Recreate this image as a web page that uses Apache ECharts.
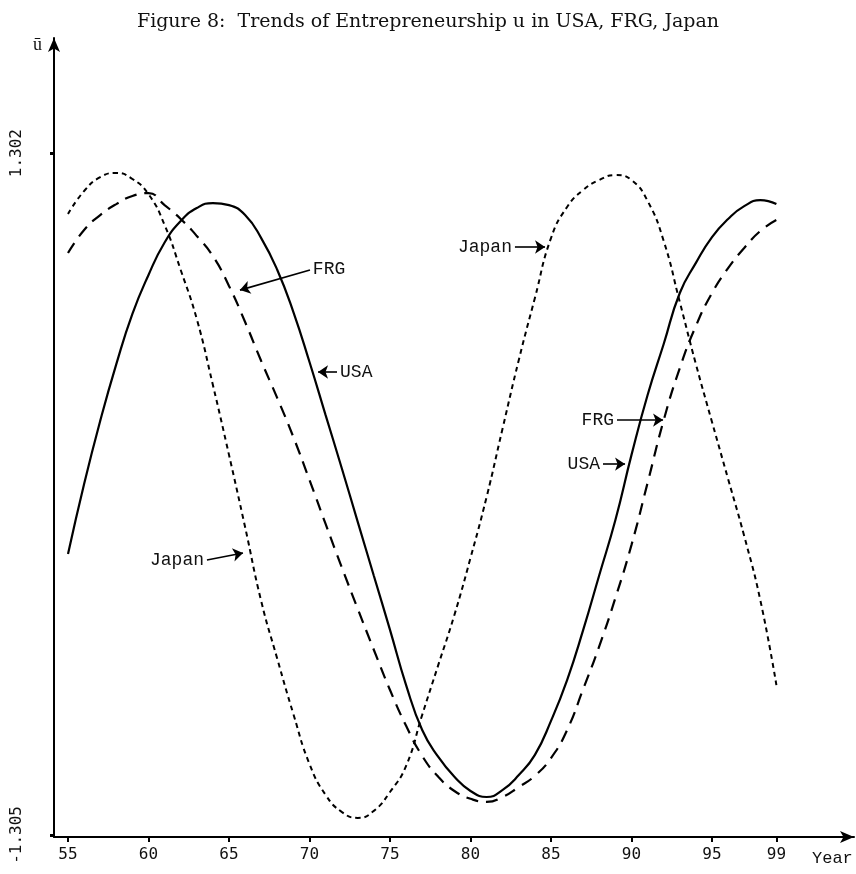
<!DOCTYPE html>
<html><head><meta charset="utf-8">
<script src="https://cdn.jsdelivr.net/npm/echarts@6/dist/echarts.min.js"></script>
<style>html,body{margin:0;padding:0;background:#fff}#c{width:856px;height:874px}</style>
</head><body><div id="c"></div>
<script>
const years = [55,56,57,58,59,60,61,62,63,64,65,66,67,68,69,70,71,72,73,74,75,76,77,78,79,80,81,82,83,84,85,86,87,88,89,90,91,92,93,94,95,96,97,98,99];
const usa = [-0.231,0.037,0.278,0.495,0.687,0.836,0.960,1.042,1.092,1.111,
  1.103,1.065,0.977,0.855,0.694,0.503,0.300,0.098,-0.109,-0.315,
  -0.521,-0.732,-0.904,-1.007,-1.083,-1.137,-1.160,-1.133,-1.076,-0.999,
  -0.869,-0.713,-0.521,-0.311,-0.101,0.148,0.377,0.572,0.767,0.882,
  0.981,1.050,1.099,1.122,1.107];
const frg = [0.920,1.008,1.065,1.107,1.138,1.149,1.103,1.050,0.985,0.908,
  0.794,0.656,0.507,0.365,0.216,0.052,-0.116,-0.281,-0.441,-0.598,
  -0.751,-0.888,-1.003,-1.083,-1.137,-1.167,-1.179,-1.160,-1.122,-1.079,
  -1.011,-0.904,-0.747,-0.583,-0.399,-0.196,0.041,0.281,0.480,0.641,
  0.767,0.862,0.939,1.004,1.046];
const japan = [1.069,1.157,1.210,1.226,1.203,1.145,1.027,0.855,0.667,0.415,
  0.148,-0.128,-0.411,-0.632,-0.843,-1.034,-1.152,-1.217,-1.240,-1.213,
  -1.141,-1.041,-0.846,-0.655,-0.464,-0.246,-0.013,0.251,0.511,0.748,
  0.977,1.096,1.161,1.199,1.218,1.199,1.119,0.966,0.732,0.495,
  0.274,0.056,-0.162,-0.407,-0.732];
const xTickValues = [55,60,65,70,75,80,85,90,95,99];
const yTickValues = [-1.305,1.302];
const titleText = 'Figure 8:  Trends of Entrepreneurship u in USA, FRG, Japan';
const xName = 'Year';
const yName = 'ū';
// annotation arrows: label text, arrow start and tip in data coordinates (year, value)
const annotations = [
  {series:'FRG', text:'FRG', from:[70.03,0.855], to:[65.68,0.778]},
  {series:'USA', text:'USA', from:[71.71,0.465], to:[70.53,0.465]},
  {series:'Japan', text:'Japan', from:[82.76,0.943], to:[84.63,0.943]},
  {series:'FRG', text:'FRG', from:[89.10,0.281], to:[91.96,0.281]},
  {series:'USA', text:'USA', from:[88.23,0.113], to:[89.60,0.113]},
  {series:'Japan', text:'Japan', from:[63.63,-0.254], to:[65.87,-0.227]}
];

const pair = (vals) => years.map((y,i)=>[y, vals[i]]);
const marks = (name) => ({
  silent: true, animation: false,
  symbol: ['none','arrow'], symbolSize: 10,
  lineStyle: {color:'#000', type:'solid', width:1.6},
  label: {show:true, position:'start', formatter:'{b}', distance:3,
    fontFamily:'Liberation Mono', fontSize:18, color:'#111'},
  emphasis: {disabled:true},
  data: annotations.filter(a=>a.series===name).map(a=>[{coord:a.from, name:a.text},{coord:a.to}])
});

const chart = echarts.init(document.getElementById('c'), null, {renderer:'canvas'});
chart.setOption({
  animation: false,
  backgroundColor: '#fff',
  title: {text: titleText, left: 'center', top: 8,
    textStyle: {fontFamily:'DejaVu Serif', fontSize:19, fontWeight:'normal', color:'#111'}},
  grid: {left:54, right:2, top:38, bottom:37, containLabel:false, outerBoundsMode:'none'},
  xAxis: {type:'value', min:54.13, max:103.82,
    axisLine:{show:true, onZero:false, symbol:['none','arrow'], symbolSize:[9,14], lineStyle:{color:'#000', width:2}},
    axisTick:{show:true, customValues:xTickValues, length:5, lineStyle:{color:'#000', width:2}},
    axisLabel:{customValues:xTickValues, formatter:v=>String(v), margin:10,
      fontFamily:'DejaVu Sans Mono', fontSize:16, color:'#111'},
    splitLine:{show:false}},
  yAxis: {type:'value', min:-1.313, max:1.742,
    axisLine:{show:true, onZero:false, symbol:['none','arrow'], symbolSize:[9,14], lineStyle:{color:'#000', width:2}},
    axisTick:{show:true, customValues:yTickValues, length:4, lineStyle:{color:'#000', width:3}},
    axisLabel:{customValues:yTickValues, rotate:90, formatter:v=>v.toFixed(3), margin:29,
      fontFamily:'DejaVu Sans Mono', fontSize:16, color:'#111'},
    splitLine:{show:false}},
  graphic: [
    {type:'text', left:812, top:850, style:{text:xName, font:'17px "Liberation Mono"', fill:'#111'}},
    {type:'text', left:33, top:36, style:{text:yName, font:'18px "Liberation Serif"', fill:'#111'}}
  ],
  series: [
    {name:'USA', type:'line', data:pair(usa), smooth:0.5, showSymbol:false,
      lineStyle:{color:'#000', width:2.2, type:'solid'}, markLine: marks('USA')},
    {name:'FRG', type:'line', data:pair(frg), smooth:0.5, showSymbol:false,
      lineStyle:{color:'#000', width:2.2, type:[12,8]}, markLine: marks('FRG')},
    {name:'Japan', type:'line', data:pair(japan), smooth:0.5, showSymbol:false,
      lineStyle:{color:'#000', width:2, type:[5,4]}, markLine: marks('Japan')}
  ]
});
</script></body></html>
